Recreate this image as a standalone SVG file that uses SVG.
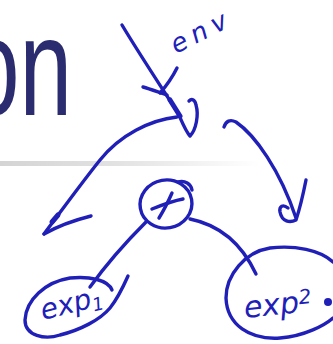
<svg xmlns="http://www.w3.org/2000/svg" width="333" height="344" viewBox="0 0 333 344">
<defs>
<linearGradient id="rule" x1="0" x2="1" y1="0" y2="0">
<stop offset="0" stop-color="#d4d4d4"/>
<stop offset="0.45" stop-color="#e2e2e2"/>
<stop offset="1" stop-color="#ffffff"/>
</linearGradient>
<style>
.ink{fill:none;stroke:#2020b8;stroke-width:3.4;stroke-linecap:round;stroke-linejoin:round}
.thick{stroke-width:5}
.hand{fill:#2020b8;font-family:"DejaVu Sans",sans-serif;font-style:italic}
</style>
</defs>
<rect width="333" height="344" fill="#ffffff"/>
<g id="title">
<text x="0" y="115" transform="translate(-33,0) scale(0.68,1)" font-family="Liberation Sans, Arial, sans-serif" font-size="139" fill="#2b2b70">on</text>
<rect x="0" y="161" width="260" height="5" fill="url(#rule)"/>
</g>
<g id="connectors">
<path class="ink" d="M122,25 C140,55 160,85 178,113"/>
<path class="ink thick" d="M170,100 L180,116"/>
<path class="ink" d="M143,87 C150,89 158,92 167,95"/>
<path class="ink" d="M177,68 C173,76 168,84 160,93"/>
<path class="ink" d="M178,113 C182,122 186,132 190,136 C196,130 199,115 196,105 C195,100 192,98 189,101"/>
<path class="ink" d="M177,117 C150,120 120,135 100,160 C80,185 62,210 44,234"/>
<path class="ink thick" d="M52,222 L58,215"/>
<path class="ink" d="M44,234 C58,226 75,220 91,216"/>
<path class="ink" d="M224,127 C226,121 230,119 236,122 C255,135 280,170 296,218"/>
<path class="ink" d="M306,180 C303,195 300,208 296,220 C290,223 282,222 280,212 C279,206 283,204 288,208"/>
<path class="ink" d="M146,222 C128,240 108,262 90,287"/>
<path class="ink" d="M190,219 C215,224 240,240 256,274"/>
</g>
<g id="plus">
<ellipse class="ink" cx="166" cy="204" rx="26" ry="24" transform="rotate(-10 166 204)"/>
<path class="ink" d="M178,182 C185,180 191,184 192,190"/>
<path class="ink" d="M152,209 C162,205 172,201 183,199"/>
<path class="ink" d="M172,193 C168,202 164,210 159,218"/>
</g>
<g id="exp1">
<path class="ink" d="M112,290 C108,280 90,276 70,278 C45,282 26,300 25,320 C25,336 45,340 60,335 C80,330 100,320 110,308 C118,298 124,285 128,276"/>
<text class="hand" x="0" y="0" transform="translate(43,320) rotate(-14)" font-size="28">exp<tspan font-size="18" dy="4">1</tspan></text>
</g>
<g id="exp2">
<path class="ink" d="M333,262 C320,250 295,245 270,248 C245,252 226,275 226,298 C227,325 250,340 280,338 C305,336 325,325 333,318"/>
<text class="hand" x="0" y="0" transform="translate(245,318) rotate(-6)" font-size="30">exp<tspan font-size="20" dy="-8">2</tspan></text>
<circle cx="328" cy="302" r="4" fill="#2020b8"/>
</g>
<g id="env">
<text class="hand" x="0" y="0" transform="translate(176,54) rotate(-27)" font-size="26" letter-spacing="6">env</text>
</g>
</svg>
